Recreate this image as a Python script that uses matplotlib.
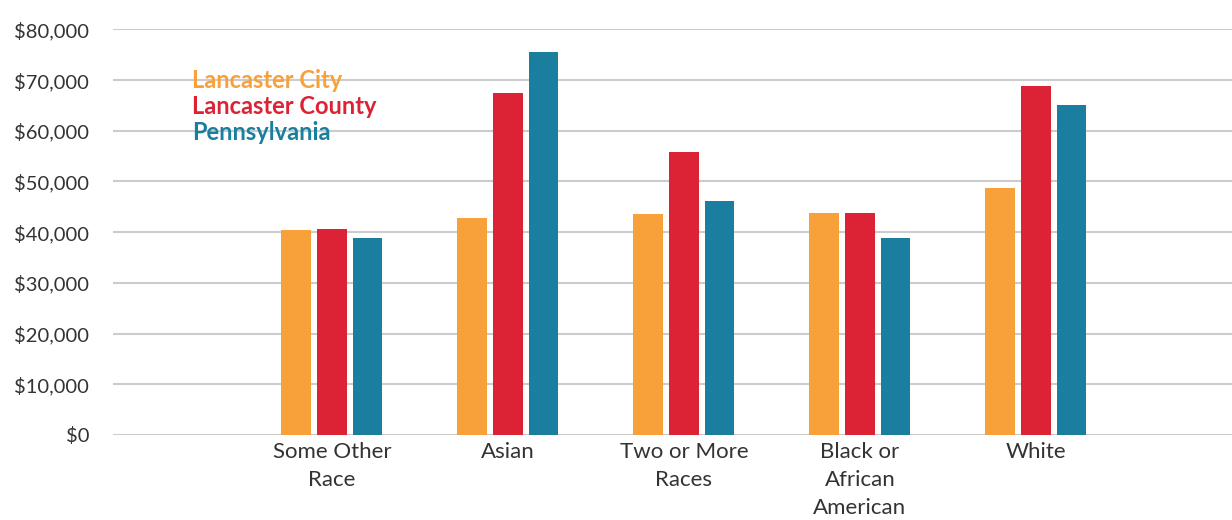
import matplotlib.pyplot as plt
import numpy as np

plt.rcParams['font.family'] = ['Lato', 'DejaVu Sans']

categorias = ["Some Other\nRace", "Asian", "Two or More\nRaces", "Black or\nAfrican\nAmerican", "White"]
series = ["Lancaster City", "Lancaster County", "Pennsylvania"]
lancaster_city = [40500, 42700, 43500, 43700, 48800]
lancaster_county = [40700, 67400, 55900, 43700, 68900]
pennsylvania = [38800, 75600, 46100, 38800, 65000]
cores = ["#F8A03A", "#DC2335", "#1A7F9E"]

fig = plt.figure(figsize=(12.32, 5.2), dpi=100)
ax = fig.add_axes([0.0917, 0.1635, 0.9083, 0.780])

x = np.arange(len(categorias))
largura = 0.17
passo = 0.202
valores = [lancaster_city, lancaster_county, pennsylvania]
for i, (nome, v, cor) in enumerate(zip(series, valores, cores)):
    ax.bar(x + (i - 1) * passo, v, width=largura, color=cor, label=nome, zorder=3)

ax.set_ylim(0, 80000)
ax.set_xlim(-1.244, 5.114)
ax.set_yticks(range(0, 80001, 10000))
ax.set_yticklabels([f"${t:,}" for t in range(0, 80001, 10000)], fontsize=14.5)
ax.set_xticks(x)
ax.set_xticklabels(categorias, linespacing=1.5, va='top', fontsize=16)
ax.tick_params(axis='both', length=0, colors='#333333')
ax.tick_params(axis='y', pad=17)
ax.tick_params(axis='x', pad=5)
ax.grid(axis='y', color='#cccccc', linewidth=1.5, zorder=0)
for s in ax.spines.values():
    s.set_visible(False)

leg = ax.legend(loc='upper left', bbox_to_anchor=(0.052, 0.955), frameon=False,
                handlelength=0, handletextpad=0, labelspacing=0.12,
                prop={'weight': 'bold', 'size': 17})
for h in leg.legend_handles:
    h.set_visible(False)
for txt, cor in zip(leg.get_texts(), cores):
    txt.set_color(cor)

plt.savefig("out.png", dpi=100)
